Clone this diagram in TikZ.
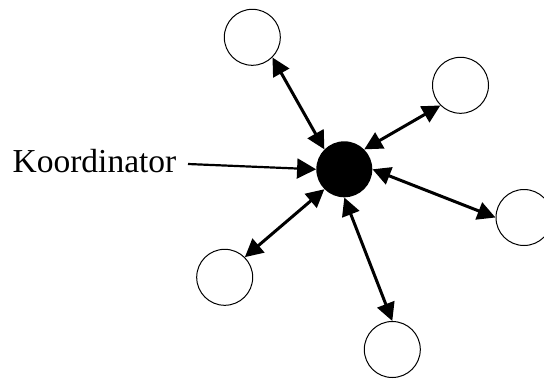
\documentclass[tikz,border=0pt]{standalone}
\usepackage{fontspec}
\setmainfont{Liberation Serif}
\usetikzlibrary{arrows.meta}
\begin{document}
\begin{tikzpicture}[x=1pt,y=-1pt,
  member/.style={circle,draw,line width=1pt,fill=white,minimum size=56pt,inner sep=0pt},
  hub/.style={circle,fill=black,minimum size=56pt,inner sep=0pt},
  link/.style={line width=3pt,{Triangle[length=18pt,width=18pt]}-{Triangle[length=18pt,width=18pt]}},
  pointer/.style={line width=2.2pt,-{Triangle[length=19pt,width=20pt]}}]
\useasboundingbox (0,0) rectangle (544,378);
\node[hub] (c) at (344.3,169.3) {};
\node[member] (tl) at (252.3,37.3) {};
\node[member] (tr) at (460.5,85.3) {};
\node[member] (r) at (524,217.5) {};
\node[member] (bl) at (224.7,277.3) {};
\node[member] (b) at (392.3,349.5) {};
\node[anchor=base,inner sep=0pt,font=\fontsize{33.5}{36}\selectfont] (k) at (94.5,172.3) {Koordinator};
\coordinate (kstart) at (188,164);
\draw[link] (tl.-45) -- (c.135);
\draw[link] (tr.-135) -- (c.45);
\draw[link] (c.0) -- (r.180);
\draw[link] (c.-90) -- (b.90);
\draw[link] (c.-135) -- (bl.45);
\draw[pointer] (kstart) -- (c.180);
\end{tikzpicture}
\end{document}
